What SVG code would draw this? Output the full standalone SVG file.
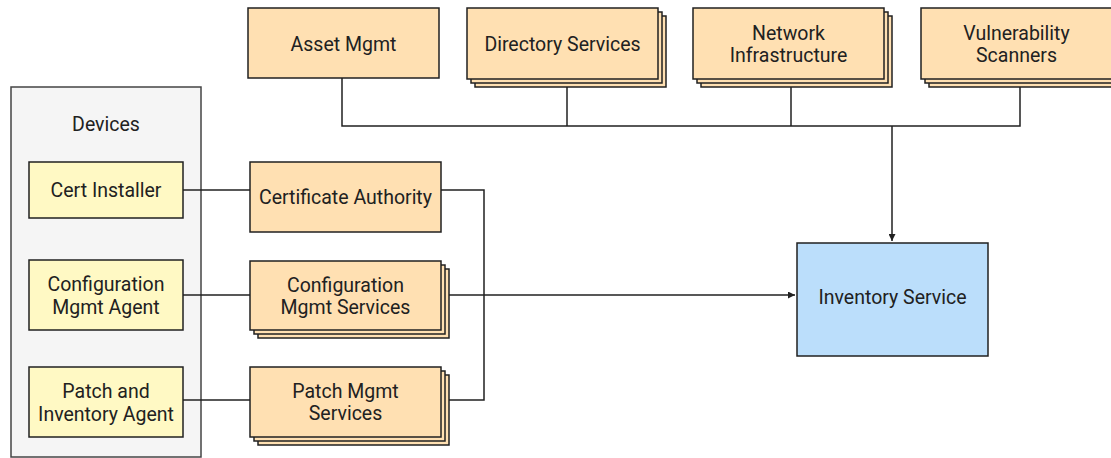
<svg xmlns="http://www.w3.org/2000/svg" width="1111" height="458" viewBox="0 0 1111 458">
<style>
text{font-family:Roboto,"Liberation Sans",sans-serif;font-size:19.5px;fill:#212121;text-anchor:middle;dominant-baseline:central}
.svc{fill:#FFE0B2;stroke:#212121;stroke-width:1.5}
.dev{fill:#FFF9C4;stroke:#212121;stroke-width:1.5}
.inv{fill:#BBDEFB;stroke:#212121;stroke-width:1.5}
.grp{fill:#F5F5F5;stroke:#444;stroke-width:1.5}
.ln{fill:none;stroke:#212121;stroke-width:1.5}
</style>
<defs>
<marker id="ah" viewBox="0 0 10 10" refX="10" refY="5" markerWidth="7" markerHeight="7" orient="auto" markerUnits="userSpaceOnUse">
<path d="M0,0 L10,5 L0,10 z" fill="#212121"/>
</marker>
</defs>
<g id="devices">
<rect class="grp" x="11" y="87" width="190" height="370"/>
<text x="106" y="124">Devices</text>
</g>
<g id="cert-installer">
<rect class="dev" x="29" y="162" width="154" height="56"/>
<text x="106" y="190">Cert Installer</text>
</g>
<g id="config-agent">
<rect class="dev" x="29" y="260" width="154" height="70"/>
<text x="106" y="284">Configuration</text>
<text x="106" y="307">Mgmt Agent</text>
</g>
<g id="patch-agent">
<rect class="dev" x="29" y="367" width="154" height="70"/>
<text x="106" y="391">Patch and</text>
<text x="106" y="414">Inventory Agent</text>
</g>
<g id="cert-authority">
<rect class="svc" x="250" y="162" width="191" height="70"/>
<text x="345.5" y="197">Certificate Authority</text>
</g>
<g id="config-services">
<rect class="svc" x="258" y="269" width="191" height="69"/>
<rect class="svc" x="254" y="265" width="191" height="69"/>
<rect class="svc" x="250" y="261" width="191" height="69"/>
<text x="345.5" y="285">Configuration</text>
<text x="345.5" y="307">Mgmt Services</text>
</g>
<g id="patch-services">
<rect class="svc" x="258" y="375" width="191" height="70"/>
<rect class="svc" x="254" y="371" width="191" height="70"/>
<rect class="svc" x="250" y="367" width="191" height="70"/>
<text x="345.5" y="391">Patch Mgmt</text>
<text x="345.5" y="413">Services</text>
</g>
<g id="asset-mgmt">
<rect class="svc" x="248" y="8" width="191" height="70"/>
<text x="343.5" y="44">Asset Mgmt</text>
</g>
<g id="directory-services">
<rect class="svc" x="475" y="16" width="191" height="71"/>
<rect class="svc" x="471" y="12" width="191" height="71"/>
<rect class="svc" x="467" y="8" width="191" height="71"/>
<text x="562.5" y="44">Directory Services</text>
</g>
<g id="network-infrastructure">
<rect class="svc" x="701" y="16" width="191" height="71"/>
<rect class="svc" x="697" y="12" width="191" height="71"/>
<rect class="svc" x="693" y="8" width="191" height="71"/>
<text x="788.5" y="33">Network</text>
<text x="788.5" y="55">Infrastructure</text>
</g>
<g id="vulnerability-scanners">
<rect class="svc" x="929" y="16" width="191" height="71"/>
<rect class="svc" x="925" y="12" width="191" height="71"/>
<rect class="svc" x="921" y="8" width="191" height="71"/>
<text x="1016.5" y="33">Vulnerability</text>
<text x="1016.5" y="55">Scanners</text>
</g>
<g id="inventory-service">
<rect class="inv" x="797" y="243" width="191" height="113"/>
<text x="892.5" y="297">Inventory Service</text>
</g>
<g id="connectors">
<path class="ln" d="M183,190 H250"/>
<path class="ln" d="M183,295 H250"/>
<path class="ln" d="M183,400 H250"/>
<path class="ln" d="M441,190 H484 V400 H449"/>
<path class="ln" d="M449,295 H795" marker-end="url(#ah)"/>
<path class="ln" d="M342,78 V126 H1020 V87"/>
<path class="ln" d="M567,87 V126"/>
<path class="ln" d="M791,87 V126"/>
<path class="ln" d="M892,126 V241" marker-end="url(#ah)"/>
</g>
</svg>
